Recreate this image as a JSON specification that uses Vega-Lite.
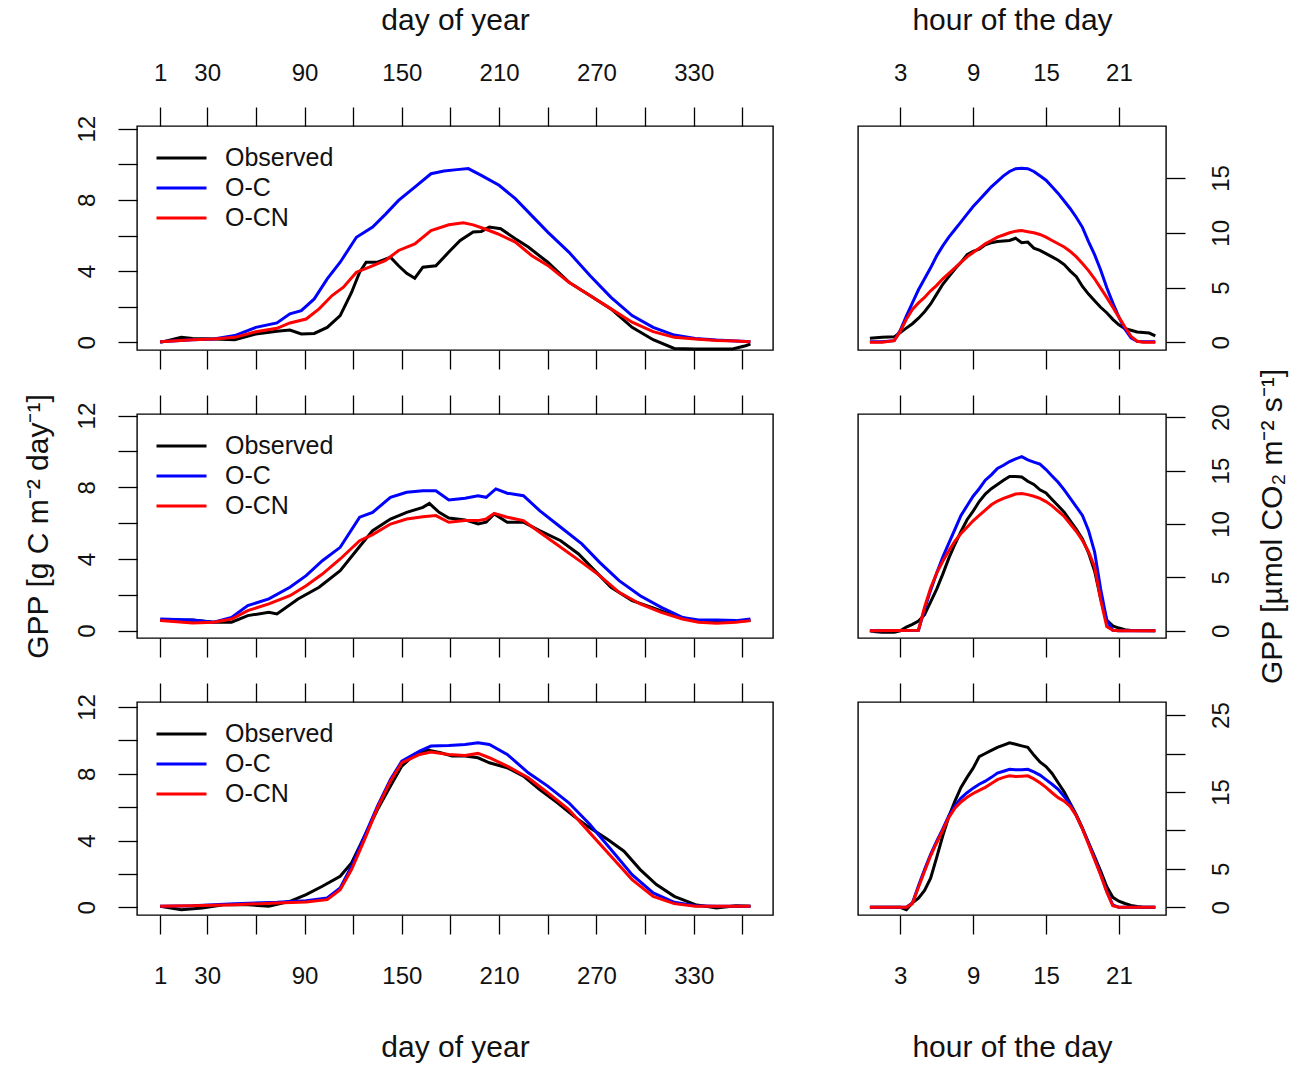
{
"$schema": "https://vega.github.io/schema/vega-lite/v6.json",
"padding": {"left": 22, "top": 4, "right": 4, "bottom": 4},
"background": "white",
"columns": 2,
"spacing": {"row": 64, "column": 85},
"bounds": "flush",
"align": "all",
"resolve": {"scale": {"color": "independent"}, "legend": {"color": "independent"}},
"config": {
 "view": {"stroke": "#000", "strokeWidth": 1.4},
 "axis": {"domain": false, "grid": false, "tickSize": 19, "tickColor": "#000", "tickWidth": 1.3,
  "labelFont": "Liberation Sans", "labelFontSize": 24, "labelColor": "#111", "labelOverlap": false, "labelFlush": false,
  "titleFont": "Liberation Sans", "titleFontSize": 30, "titleFontWeight": "normal", "titleColor": "#111"},
 "legend": {"labelFont": "Liberation Sans", "labelFontSize": 25, "labelColor": "#111", "symbolType": "stroke", "symbolSize": 2500, "symbolStrokeWidth": 5, "labelOffset": 17, "clipHeight": 30, "rowPadding": 0, "padding": 0, "title": null},
 "line": {"strokeWidth": 3, "clip": true}
},
"datasets": {
 "a1": [
  {"day":1,"series":"Observed","gpp":0.0},{"day":8,"series":"Observed","gpp":0.15},{"day":14,"series":"Observed","gpp":0.28},{"day":21,"series":"Observed","gpp":0.22},{"day":34,"series":"Observed","gpp":0.19},{"day":47,"series":"Observed","gpp":0.15},{"day":60,"series":"Observed","gpp":0.47},{"day":73,"series":"Observed","gpp":0.62},{"day":81,"series":"Observed","gpp":0.69},{"day":88,"series":"Observed","gpp":0.47},{"day":96,"series":"Observed","gpp":0.5},{"day":104,"series":"Observed","gpp":0.84},{"day":112,"series":"Observed","gpp":1.5},{"day":119,"series":"Observed","gpp":2.8},{"day":124,"series":"Observed","gpp":3.94},{"day":128,"series":"Observed","gpp":4.5},{"day":135,"series":"Observed","gpp":4.5},{"day":143,"series":"Observed","gpp":4.78},{"day":148,"series":"Observed","gpp":4.3},{"day":153,"series":"Observed","gpp":3.88},{"day":158,"series":"Observed","gpp":3.6},{"day":163,"series":"Observed","gpp":4.22},{"day":171,"series":"Observed","gpp":4.3},{"day":179,"series":"Observed","gpp":5.07},{"day":186,"series":"Observed","gpp":5.72},{"day":194,"series":"Observed","gpp":6.2},{"day":199,"series":"Observed","gpp":6.23},{"day":204,"series":"Observed","gpp":6.47},{"day":211,"series":"Observed","gpp":6.38},{"day":220,"series":"Observed","gpp":5.82},{"day":228,"series":"Observed","gpp":5.35},{"day":240,"series":"Observed","gpp":4.5},{"day":253,"series":"Observed","gpp":3.38},{"day":266,"series":"Observed","gpp":2.63},{"day":279,"series":"Observed","gpp":1.88},{"day":292,"series":"Observed","gpp":0.84},{"day":305,"series":"Observed","gpp":0.15},{"day":318,"series":"Observed","gpp":-0.34},{"day":331,"series":"Observed","gpp":-0.38},{"day":344,"series":"Observed","gpp":-0.38},{"day":354,"series":"Observed","gpp":-0.37},{"day":362,"series":"Observed","gpp":-0.19},{"day":365,"series":"Observed","gpp":-0.1},
  {"day":1,"series":"O-C","gpp":0.04},{"day":21,"series":"O-C","gpp":0.15},{"day":34,"series":"O-C","gpp":0.19},{"day":47,"series":"O-C","gpp":0.38},{"day":60,"series":"O-C","gpp":0.84},{"day":73,"series":"O-C","gpp":1.09},{"day":81,"series":"O-C","gpp":1.6},{"day":88,"series":"O-C","gpp":1.78},{"day":96,"series":"O-C","gpp":2.44},{"day":104,"series":"O-C","gpp":3.56},{"day":112,"series":"O-C","gpp":4.5},{"day":122,"series":"O-C","gpp":5.9},{"day":132,"series":"O-C","gpp":6.47},{"day":140,"series":"O-C","gpp":7.2},{"day":148,"series":"O-C","gpp":7.97},{"day":158,"series":"O-C","gpp":8.72},{"day":168,"series":"O-C","gpp":9.47},{"day":176,"series":"O-C","gpp":9.62},{"day":184,"series":"O-C","gpp":9.7},{"day":191,"series":"O-C","gpp":9.76},{"day":199,"series":"O-C","gpp":9.38},{"day":210,"series":"O-C","gpp":8.82},{"day":220,"series":"O-C","gpp":8.07},{"day":230,"series":"O-C","gpp":7.13},{"day":240,"series":"O-C","gpp":6.19},{"day":253,"series":"O-C","gpp":5.07},{"day":266,"series":"O-C","gpp":3.75},{"day":279,"series":"O-C","gpp":2.53},{"day":292,"series":"O-C","gpp":1.5},{"day":305,"series":"O-C","gpp":0.84},{"day":318,"series":"O-C","gpp":0.41},{"day":331,"series":"O-C","gpp":0.22},{"day":344,"series":"O-C","gpp":0.13},{"day":356,"series":"O-C","gpp":0.08},{"day":365,"series":"O-C","gpp":0.04},
  {"day":1,"series":"O-CN","gpp":0.04},{"day":21,"series":"O-CN","gpp":0.15},{"day":34,"series":"O-CN","gpp":0.19},{"day":47,"series":"O-CN","gpp":0.28},{"day":60,"series":"O-CN","gpp":0.6},{"day":73,"series":"O-CN","gpp":0.79},{"day":81,"series":"O-CN","gpp":1.09},{"day":91,"series":"O-CN","gpp":1.31},{"day":99,"series":"O-CN","gpp":1.88},{"day":107,"series":"O-CN","gpp":2.63},{"day":114,"series":"O-CN","gpp":3.1},{"day":122,"series":"O-CN","gpp":3.94},{"day":130,"series":"O-CN","gpp":4.22},{"day":140,"series":"O-CN","gpp":4.6},{"day":148,"series":"O-CN","gpp":5.16},{"day":158,"series":"O-CN","gpp":5.53},{"day":168,"series":"O-CN","gpp":6.28},{"day":179,"series":"O-CN","gpp":6.6},{"day":188,"series":"O-CN","gpp":6.72},{"day":194,"series":"O-CN","gpp":6.6},{"day":201,"series":"O-CN","gpp":6.38},{"day":209,"series":"O-CN","gpp":6.1},{"day":220,"series":"O-CN","gpp":5.63},{"day":230,"series":"O-CN","gpp":4.88},{"day":240,"series":"O-CN","gpp":4.32},{"day":253,"series":"O-CN","gpp":3.38},{"day":266,"series":"O-CN","gpp":2.63},{"day":279,"series":"O-CN","gpp":1.88},{"day":292,"series":"O-CN","gpp":1.13},{"day":305,"series":"O-CN","gpp":0.6},{"day":318,"series":"O-CN","gpp":0.28},{"day":331,"series":"O-CN","gpp":0.19},{"day":344,"series":"O-CN","gpp":0.11},{"day":356,"series":"O-CN","gpp":0.08},{"day":365,"series":"O-CN","gpp":0.04}
 ],
 "a2": [
  {"day":1,"series":"Observed","gpp":0.56},{"day":21,"series":"Observed","gpp":0.6},{"day":34,"series":"Observed","gpp":0.47},{"day":45,"series":"Observed","gpp":0.47},{"day":55,"series":"Observed","gpp":0.84},{"day":68,"series":"Observed","gpp":1.02},{"day":73,"series":"Observed","gpp":0.93},{"day":86,"series":"Observed","gpp":1.77},{"day":99,"series":"Observed","gpp":2.42},{"day":112,"series":"Observed","gpp":3.35},{"day":122,"series":"Observed","gpp":4.47},{"day":132,"series":"Observed","gpp":5.58},{"day":143,"series":"Observed","gpp":6.23},{"day":153,"series":"Observed","gpp":6.6},{"day":163,"series":"Observed","gpp":6.88},{"day":167,"series":"Observed","gpp":7.1},{"day":173,"series":"Observed","gpp":6.6},{"day":179,"series":"Observed","gpp":6.29},{"day":189,"series":"Observed","gpp":6.18},{"day":197,"series":"Observed","gpp":5.95},{"day":202,"series":"Observed","gpp":6.05},{"day":207,"series":"Observed","gpp":6.51},{"day":215,"series":"Observed","gpp":6.05},{"day":225,"series":"Observed","gpp":6.05},{"day":235,"series":"Observed","gpp":5.58},{"day":248,"series":"Observed","gpp":5.02},{"day":259,"series":"Observed","gpp":4.28},{"day":269,"series":"Observed","gpp":3.35},{"day":279,"series":"Observed","gpp":2.42},{"day":292,"series":"Observed","gpp":1.67},{"day":305,"series":"Observed","gpp":1.27},{"day":318,"series":"Observed","gpp":0.84},{"day":331,"series":"Observed","gpp":0.56},{"day":344,"series":"Observed","gpp":0.52},{"day":356,"series":"Observed","gpp":0.52},{"day":365,"series":"Observed","gpp":0.56},
  {"day":1,"series":"O-C","gpp":0.65},{"day":21,"series":"O-C","gpp":0.6},{"day":34,"series":"O-C","gpp":0.47},{"day":45,"series":"O-C","gpp":0.74},{"day":55,"series":"O-C","gpp":1.4},{"day":68,"series":"O-C","gpp":1.77},{"day":81,"series":"O-C","gpp":2.42},{"day":91,"series":"O-C","gpp":3.07},{"day":101,"series":"O-C","gpp":3.9},{"day":112,"series":"O-C","gpp":4.65},{"day":124,"series":"O-C","gpp":6.33},{"day":132,"series":"O-C","gpp":6.6},{"day":143,"series":"O-C","gpp":7.44},{"day":153,"series":"O-C","gpp":7.72},{"day":163,"series":"O-C","gpp":7.81},{"day":171,"series":"O-C","gpp":7.81},{"day":179,"series":"O-C","gpp":7.29},{"day":189,"series":"O-C","gpp":7.39},{"day":197,"series":"O-C","gpp":7.53},{"day":202,"series":"O-C","gpp":7.44},{"day":208,"series":"O-C","gpp":7.91},{"day":215,"series":"O-C","gpp":7.67},{"day":225,"series":"O-C","gpp":7.53},{"day":235,"series":"O-C","gpp":6.7},{"day":248,"series":"O-C","gpp":5.77},{"day":261,"series":"O-C","gpp":4.84},{"day":272,"series":"O-C","gpp":3.81},{"day":284,"series":"O-C","gpp":2.79},{"day":297,"series":"O-C","gpp":1.95},{"day":310,"series":"O-C","gpp":1.3},{"day":323,"series":"O-C","gpp":0.74},{"day":333,"series":"O-C","gpp":0.6},{"day":344,"series":"O-C","gpp":0.6},{"day":356,"series":"O-C","gpp":0.56},{"day":365,"series":"O-C","gpp":0.65},
  {"day":1,"series":"O-CN","gpp":0.56},{"day":21,"series":"O-CN","gpp":0.43},{"day":34,"series":"O-CN","gpp":0.47},{"day":45,"series":"O-CN","gpp":0.65},{"day":55,"series":"O-CN","gpp":1.12},{"day":68,"series":"O-CN","gpp":1.49},{"day":81,"series":"O-CN","gpp":1.95},{"day":91,"series":"O-CN","gpp":2.51},{"day":101,"series":"O-CN","gpp":3.16},{"day":112,"series":"O-CN","gpp":4.0},{"day":124,"series":"O-CN","gpp":5.02},{"day":132,"series":"O-CN","gpp":5.36},{"day":143,"series":"O-CN","gpp":5.95},{"day":153,"series":"O-CN","gpp":6.23},{"day":163,"series":"O-CN","gpp":6.36},{"day":171,"series":"O-CN","gpp":6.42},{"day":179,"series":"O-CN","gpp":6.05},{"day":189,"series":"O-CN","gpp":6.14},{"day":197,"series":"O-CN","gpp":6.14},{"day":202,"series":"O-CN","gpp":6.23},{"day":207,"series":"O-CN","gpp":6.55},{"day":215,"series":"O-CN","gpp":6.33},{"day":225,"series":"O-CN","gpp":6.14},{"day":235,"series":"O-CN","gpp":5.49},{"day":248,"series":"O-CN","gpp":4.65},{"day":261,"series":"O-CN","gpp":3.81},{"day":272,"series":"O-CN","gpp":3.07},{"day":284,"series":"O-CN","gpp":2.14},{"day":297,"series":"O-CN","gpp":1.49},{"day":310,"series":"O-CN","gpp":1.02},{"day":323,"series":"O-CN","gpp":0.65},{"day":333,"series":"O-CN","gpp":0.47},{"day":344,"series":"O-CN","gpp":0.41},{"day":356,"series":"O-CN","gpp":0.47},{"day":365,"series":"O-CN","gpp":0.56}
 ],
 "a3": [
  {"day":1,"series":"Observed","gpp":0.06},{"day":14,"series":"Observed","gpp":-0.14},{"day":27,"series":"Observed","gpp":-0.04},{"day":40,"series":"Observed","gpp":0.16},{"day":55,"series":"Observed","gpp":0.16},{"day":68,"series":"Observed","gpp":0.06},{"day":81,"series":"Observed","gpp":0.36},{"day":91,"series":"Observed","gpp":0.76},{"day":101,"series":"Observed","gpp":1.26},{"day":112,"series":"Observed","gpp":1.86},{"day":119,"series":"Observed","gpp":2.66},{"day":127,"series":"Observed","gpp":4.26},{"day":135,"series":"Observed","gpp":5.86},{"day":143,"series":"Observed","gpp":7.26},{"day":150,"series":"Observed","gpp":8.46},{"day":158,"series":"Observed","gpp":9.16},{"day":166,"series":"Observed","gpp":9.42},{"day":174,"series":"Observed","gpp":9.26},{"day":181,"series":"Observed","gpp":9.06},{"day":189,"series":"Observed","gpp":9.06},{"day":197,"series":"Observed","gpp":8.96},{"day":204,"series":"Observed","gpp":8.66},{"day":215,"series":"Observed","gpp":8.36},{"day":225,"series":"Observed","gpp":7.86},{"day":235,"series":"Observed","gpp":7.06},{"day":246,"series":"Observed","gpp":6.26},{"day":256,"series":"Observed","gpp":5.46},{"day":266,"series":"Observed","gpp":4.76},{"day":277,"series":"Observed","gpp":4.06},{"day":287,"series":"Observed","gpp":3.36},{"day":297,"series":"Observed","gpp":2.26},{"day":307,"series":"Observed","gpp":1.36},{"day":318,"series":"Observed","gpp":0.66},{"day":331,"series":"Observed","gpp":0.16},{"day":344,"series":"Observed","gpp":-0.04},{"day":356,"series":"Observed","gpp":0.1},{"day":365,"series":"Observed","gpp":0.06},
  {"day":1,"series":"O-C","gpp":0.06},{"day":21,"series":"O-C","gpp":0.1},{"day":47,"series":"O-C","gpp":0.22},{"day":73,"series":"O-C","gpp":0.3},{"day":91,"series":"O-C","gpp":0.4},{"day":104,"series":"O-C","gpp":0.56},{"day":112,"series":"O-C","gpp":1.16},{"day":119,"series":"O-C","gpp":2.46},{"day":127,"series":"O-C","gpp":4.26},{"day":135,"series":"O-C","gpp":6.06},{"day":143,"series":"O-C","gpp":7.66},{"day":150,"series":"O-C","gpp":8.76},{"day":161,"series":"O-C","gpp":9.36},{"day":168,"series":"O-C","gpp":9.66},{"day":179,"series":"O-C","gpp":9.7},{"day":189,"series":"O-C","gpp":9.76},{"day":197,"series":"O-C","gpp":9.86},{"day":204,"series":"O-C","gpp":9.76},{"day":215,"series":"O-C","gpp":9.16},{"day":228,"series":"O-C","gpp":8.06},{"day":240,"series":"O-C","gpp":7.26},{"day":253,"series":"O-C","gpp":6.26},{"day":266,"series":"O-C","gpp":4.96},{"day":279,"series":"O-C","gpp":3.46},{"day":292,"series":"O-C","gpp":1.96},{"day":305,"series":"O-C","gpp":0.86},{"day":318,"series":"O-C","gpp":0.3},{"day":331,"series":"O-C","gpp":0.1},{"day":344,"series":"O-C","gpp":0.06},{"day":365,"series":"O-C","gpp":0.06},
  {"day":1,"series":"O-CN","gpp":0.06},{"day":21,"series":"O-CN","gpp":0.1},{"day":47,"series":"O-CN","gpp":0.16},{"day":73,"series":"O-CN","gpp":0.26},{"day":91,"series":"O-CN","gpp":0.32},{"day":104,"series":"O-CN","gpp":0.46},{"day":112,"series":"O-CN","gpp":1.06},{"day":119,"series":"O-CN","gpp":2.26},{"day":127,"series":"O-CN","gpp":4.06},{"day":135,"series":"O-CN","gpp":5.96},{"day":143,"series":"O-CN","gpp":7.56},{"day":150,"series":"O-CN","gpp":8.66},{"day":161,"series":"O-CN","gpp":9.16},{"day":168,"series":"O-CN","gpp":9.3},{"day":179,"series":"O-CN","gpp":9.16},{"day":189,"series":"O-CN","gpp":9.1},{"day":197,"series":"O-CN","gpp":9.22},{"day":204,"series":"O-CN","gpp":8.96},{"day":215,"series":"O-CN","gpp":8.46},{"day":228,"series":"O-CN","gpp":7.76},{"day":240,"series":"O-CN","gpp":6.86},{"day":253,"series":"O-CN","gpp":5.86},{"day":266,"series":"O-CN","gpp":4.46},{"day":279,"series":"O-CN","gpp":3.06},{"day":292,"series":"O-CN","gpp":1.66},{"day":305,"series":"O-CN","gpp":0.66},{"day":318,"series":"O-CN","gpp":0.22},{"day":331,"series":"O-CN","gpp":0.06},{"day":344,"series":"O-CN","gpp":0.06},{"day":365,"series":"O-CN","gpp":0.06}
 ],
 "d1": [
  {"hour":0.5,"series":"Observed","gpp":0.37},{"hour":1.5,"series":"Observed","gpp":0.46},{"hour":2.5,"series":"Observed","gpp":0.5},{"hour":3,"series":"Observed","gpp":0.9},{"hour":3.5,"series":"Observed","gpp":1.3},{"hour":4,"series":"Observed","gpp":1.7},{"hour":4.5,"series":"Observed","gpp":2.2},{"hour":5,"series":"Observed","gpp":2.8},{"hour":5.5,"series":"Observed","gpp":3.5},{"hour":6,"series":"Observed","gpp":4.4},{"hour":6.5,"series":"Observed","gpp":5.3},{"hour":7,"series":"Observed","gpp":6.0},{"hour":7.5,"series":"Observed","gpp":6.7},{"hour":8,"series":"Observed","gpp":7.3},{"hour":8.5,"series":"Observed","gpp":8.0},{"hour":9,"series":"Observed","gpp":8.3},{"hour":9.5,"series":"Observed","gpp":8.5},{"hour":10,"series":"Observed","gpp":8.9},{"hour":10.5,"series":"Observed","gpp":9.1},{"hour":11,"series":"Observed","gpp":9.2},{"hour":11.5,"series":"Observed","gpp":9.25},{"hour":12,"series":"Observed","gpp":9.3},{"hour":12.5,"series":"Observed","gpp":9.5},{"hour":13,"series":"Observed","gpp":9.1},{"hour":13.5,"series":"Observed","gpp":9.15},{"hour":14,"series":"Observed","gpp":8.6},{"hour":14.5,"series":"Observed","gpp":8.4},{"hour":15,"series":"Observed","gpp":8.1},{"hour":15.5,"series":"Observed","gpp":7.8},{"hour":16,"series":"Observed","gpp":7.5},{"hour":16.5,"series":"Observed","gpp":7.1},{"hour":17,"series":"Observed","gpp":6.5},{"hour":17.5,"series":"Observed","gpp":6.0},{"hour":18,"series":"Observed","gpp":5.1},{"hour":18.5,"series":"Observed","gpp":4.4},{"hour":19,"series":"Observed","gpp":3.8},{"hour":19.5,"series":"Observed","gpp":3.2},{"hour":20,"series":"Observed","gpp":2.7},{"hour":20.5,"series":"Observed","gpp":2.1},{"hour":21,"series":"Observed","gpp":1.6},{"hour":21.5,"series":"Observed","gpp":1.25},{"hour":22,"series":"Observed","gpp":1.1},{"hour":22.5,"series":"Observed","gpp":0.95},{"hour":23,"series":"Observed","gpp":0.9},{"hour":23.5,"series":"Observed","gpp":0.85},{"hour":24,"series":"Observed","gpp":0.6},
  {"hour":0.5,"series":"O-C","gpp":0.06},{"hour":1.5,"series":"O-C","gpp":0.06},{"hour":2.5,"series":"O-C","gpp":0.15},{"hour":3,"series":"O-C","gpp":1.1},{"hour":3.5,"series":"O-C","gpp":2.4},{"hour":4,"series":"O-C","gpp":3.6},{"hour":4.5,"series":"O-C","gpp":4.8},{"hour":5,"series":"O-C","gpp":5.8},{"hour":5.5,"series":"O-C","gpp":6.8},{"hour":6,"series":"O-C","gpp":7.9},{"hour":6.5,"series":"O-C","gpp":8.8},{"hour":7,"series":"O-C","gpp":9.6},{"hour":7.5,"series":"O-C","gpp":10.3},{"hour":8,"series":"O-C","gpp":11.0},{"hour":8.5,"series":"O-C","gpp":11.7},{"hour":9,"series":"O-C","gpp":12.4},{"hour":9.5,"series":"O-C","gpp":13.0},{"hour":10,"series":"O-C","gpp":13.6},{"hour":10.5,"series":"O-C","gpp":14.2},{"hour":11,"series":"O-C","gpp":14.7},{"hour":11.5,"series":"O-C","gpp":15.2},{"hour":12,"series":"O-C","gpp":15.6},{"hour":12.5,"series":"O-C","gpp":15.85},{"hour":13,"series":"O-C","gpp":15.9},{"hour":13.5,"series":"O-C","gpp":15.85},{"hour":14,"series":"O-C","gpp":15.6},{"hour":14.5,"series":"O-C","gpp":15.2},{"hour":15,"series":"O-C","gpp":14.8},{"hour":15.5,"series":"O-C","gpp":14.2},{"hour":16,"series":"O-C","gpp":13.6},{"hour":16.5,"series":"O-C","gpp":12.9},{"hour":17,"series":"O-C","gpp":12.2},{"hour":17.5,"series":"O-C","gpp":11.4},{"hour":18,"series":"O-C","gpp":10.5},{"hour":18.5,"series":"O-C","gpp":9.2},{"hour":19,"series":"O-C","gpp":8.0},{"hour":19.5,"series":"O-C","gpp":6.6},{"hour":20,"series":"O-C","gpp":5.0},{"hour":20.5,"series":"O-C","gpp":3.6},{"hour":21,"series":"O-C","gpp":2.3},{"hour":21.5,"series":"O-C","gpp":1.2},{"hour":22,"series":"O-C","gpp":0.4},{"hour":22.5,"series":"O-C","gpp":0.1},{"hour":23,"series":"O-C","gpp":0.06},{"hour":24,"series":"O-C","gpp":0.06},
  {"hour":0.5,"series":"O-CN","gpp":0.0},{"hour":1.5,"series":"O-CN","gpp":0.0},{"hour":2.5,"series":"O-CN","gpp":0.15},{"hour":3,"series":"O-CN","gpp":1.0},{"hour":3.5,"series":"O-CN","gpp":2.1},{"hour":4,"series":"O-CN","gpp":3.0},{"hour":4.5,"series":"O-CN","gpp":3.6},{"hour":5,"series":"O-CN","gpp":4.1},{"hour":5.5,"series":"O-CN","gpp":4.7},{"hour":6,"series":"O-CN","gpp":5.2},{"hour":6.5,"series":"O-CN","gpp":5.8},{"hour":7,"series":"O-CN","gpp":6.3},{"hour":7.5,"series":"O-CN","gpp":6.8},{"hour":8,"series":"O-CN","gpp":7.3},{"hour":8.5,"series":"O-CN","gpp":7.8},{"hour":9,"series":"O-CN","gpp":8.2},{"hour":9.5,"series":"O-CN","gpp":8.6},{"hour":10,"series":"O-CN","gpp":9.0},{"hour":10.5,"series":"O-CN","gpp":9.3},{"hour":11,"series":"O-CN","gpp":9.6},{"hour":11.5,"series":"O-CN","gpp":9.8},{"hour":12,"series":"O-CN","gpp":10.0},{"hour":12.5,"series":"O-CN","gpp":10.15},{"hour":13,"series":"O-CN","gpp":10.2},{"hour":13.5,"series":"O-CN","gpp":10.1},{"hour":14,"series":"O-CN","gpp":10.0},{"hour":14.5,"series":"O-CN","gpp":9.85},{"hour":15,"series":"O-CN","gpp":9.6},{"hour":15.5,"series":"O-CN","gpp":9.3},{"hour":16,"series":"O-CN","gpp":9.0},{"hour":16.5,"series":"O-CN","gpp":8.7},{"hour":17,"series":"O-CN","gpp":8.3},{"hour":17.5,"series":"O-CN","gpp":7.8},{"hour":18,"series":"O-CN","gpp":7.2},{"hour":18.5,"series":"O-CN","gpp":6.55},{"hour":19,"series":"O-CN","gpp":5.8},{"hour":19.5,"series":"O-CN","gpp":4.95},{"hour":20,"series":"O-CN","gpp":4.1},{"hour":20.5,"series":"O-CN","gpp":3.2},{"hour":21,"series":"O-CN","gpp":2.3},{"hour":21.5,"series":"O-CN","gpp":1.4},{"hour":22,"series":"O-CN","gpp":0.55},{"hour":22.5,"series":"O-CN","gpp":0.1},{"hour":23,"series":"O-CN","gpp":0.0},{"hour":24,"series":"O-CN","gpp":0.0}
 ],
 "d2": [
  {"hour":0.5,"series":"Observed","gpp":0.0},{"hour":1,"series":"Observed","gpp":-0.1},{"hour":1.5,"series":"Observed","gpp":-0.15},{"hour":2.5,"series":"Observed","gpp":-0.15},{"hour":3,"series":"Observed","gpp":0.0},{"hour":3.5,"series":"Observed","gpp":0.35},{"hour":4,"series":"Observed","gpp":0.6},{"hour":4.5,"series":"Observed","gpp":0.9},{"hour":5,"series":"Observed","gpp":1.5},{"hour":5.5,"series":"Observed","gpp":2.7},{"hour":6,"series":"Observed","gpp":3.9},{"hour":6.5,"series":"Observed","gpp":5.3},{"hour":7,"series":"Observed","gpp":6.8},{"hour":7.5,"series":"Observed","gpp":8.1},{"hour":8,"series":"Observed","gpp":9.3},{"hour":8.5,"series":"Observed","gpp":10.4},{"hour":9,"series":"Observed","gpp":11.2},{"hour":9.5,"series":"Observed","gpp":12.1},{"hour":10,"series":"Observed","gpp":12.8},{"hour":10.5,"series":"Observed","gpp":13.3},{"hour":11,"series":"Observed","gpp":13.7},{"hour":11.5,"series":"Observed","gpp":14.1},{"hour":12,"series":"Observed","gpp":14.45},{"hour":12.5,"series":"Observed","gpp":14.45},{"hour":13,"series":"Observed","gpp":14.4},{"hour":13.5,"series":"Observed","gpp":14.0},{"hour":14,"series":"Observed","gpp":13.7},{"hour":14.5,"series":"Observed","gpp":13.2},{"hour":15,"series":"Observed","gpp":12.9},{"hour":15.5,"series":"Observed","gpp":12.3},{"hour":16,"series":"Observed","gpp":11.7},{"hour":16.5,"series":"Observed","gpp":11.1},{"hour":17,"series":"Observed","gpp":10.3},{"hour":17.5,"series":"Observed","gpp":9.5},{"hour":18,"series":"Observed","gpp":8.6},{"hour":18.5,"series":"Observed","gpp":7.3},{"hour":19,"series":"Observed","gpp":5.6},{"hour":19.5,"series":"Observed","gpp":3.0},{"hour":20,"series":"Observed","gpp":1.0},{"hour":20.5,"series":"Observed","gpp":0.45},{"hour":21,"series":"Observed","gpp":0.25},{"hour":21.5,"series":"Observed","gpp":0.1},{"hour":22,"series":"Observed","gpp":0.03},{"hour":24,"series":"Observed","gpp":0.0},
  {"hour":0.5,"series":"O-C","gpp":0.0},{"hour":4.5,"series":"O-C","gpp":0.05},{"hour":5,"series":"O-C","gpp":2.0},{"hour":5.5,"series":"O-C","gpp":3.8},{"hour":6,"series":"O-C","gpp":5.4},{"hour":6.5,"series":"O-C","gpp":6.9},{"hour":7,"series":"O-C","gpp":8.2},{"hour":7.5,"series":"O-C","gpp":9.5},{"hour":8,"series":"O-C","gpp":10.8},{"hour":8.5,"series":"O-C","gpp":11.7},{"hour":9,"series":"O-C","gpp":12.6},{"hour":9.5,"series":"O-C","gpp":13.3},{"hour":10,"series":"O-C","gpp":14.1},{"hour":10.5,"series":"O-C","gpp":14.6},{"hour":11,"series":"O-C","gpp":15.2},{"hour":11.5,"series":"O-C","gpp":15.5},{"hour":12,"series":"O-C","gpp":15.85},{"hour":12.5,"series":"O-C","gpp":16.1},{"hour":13,"series":"O-C","gpp":16.3},{"hour":13.5,"series":"O-C","gpp":16.0},{"hour":14,"series":"O-C","gpp":15.8},{"hour":14.5,"series":"O-C","gpp":15.6},{"hour":15,"series":"O-C","gpp":15.1},{"hour":15.5,"series":"O-C","gpp":14.5},{"hour":16,"series":"O-C","gpp":13.9},{"hour":16.5,"series":"O-C","gpp":13.2},{"hour":17,"series":"O-C","gpp":12.4},{"hour":17.5,"series":"O-C","gpp":11.6},{"hour":18,"series":"O-C","gpp":10.8},{"hour":18.5,"series":"O-C","gpp":9.4},{"hour":19,"series":"O-C","gpp":7.4},{"hour":19.5,"series":"O-C","gpp":3.9},{"hour":20,"series":"O-C","gpp":1.0},{"hour":20.5,"series":"O-C","gpp":0.05},{"hour":21,"series":"O-C","gpp":0.0},{"hour":24,"series":"O-C","gpp":0.0},
  {"hour":0.5,"series":"O-CN","gpp":0.0},{"hour":4.5,"series":"O-CN","gpp":0.05},{"hour":5,"series":"O-CN","gpp":2.2},{"hour":5.5,"series":"O-CN","gpp":4.0},{"hour":6,"series":"O-CN","gpp":5.4},{"hour":6.5,"series":"O-CN","gpp":6.5},{"hour":7,"series":"O-CN","gpp":7.5},{"hour":7.5,"series":"O-CN","gpp":8.4},{"hour":8,"series":"O-CN","gpp":9.1},{"hour":8.5,"series":"O-CN","gpp":9.7},{"hour":9,"series":"O-CN","gpp":10.3},{"hour":9.5,"series":"O-CN","gpp":10.8},{"hour":10,"series":"O-CN","gpp":11.3},{"hour":10.5,"series":"O-CN","gpp":11.8},{"hour":11,"series":"O-CN","gpp":12.15},{"hour":11.5,"series":"O-CN","gpp":12.4},{"hour":12,"series":"O-CN","gpp":12.6},{"hour":12.5,"series":"O-CN","gpp":12.8},{"hour":13,"series":"O-CN","gpp":12.85},{"hour":13.5,"series":"O-CN","gpp":12.75},{"hour":14,"series":"O-CN","gpp":12.6},{"hour":14.5,"series":"O-CN","gpp":12.4},{"hour":15,"series":"O-CN","gpp":12.1},{"hour":15.5,"series":"O-CN","gpp":11.7},{"hour":16,"series":"O-CN","gpp":11.2},{"hour":16.5,"series":"O-CN","gpp":10.7},{"hour":17,"series":"O-CN","gpp":10.0},{"hour":17.5,"series":"O-CN","gpp":9.3},{"hour":18,"series":"O-CN","gpp":8.45},{"hour":18.5,"series":"O-CN","gpp":7.4},{"hour":19,"series":"O-CN","gpp":6.0},{"hour":19.5,"series":"O-CN","gpp":2.9},{"hour":20,"series":"O-CN","gpp":0.4},{"hour":20.5,"series":"O-CN","gpp":0.05},{"hour":21,"series":"O-CN","gpp":0.0},{"hour":24,"series":"O-CN","gpp":0.0}
 ],
 "d3": [
  {"hour":0.5,"series":"Observed","gpp":0.0},{"hour":3,"series":"Observed","gpp":0.0},{"hour":3.5,"series":"Observed","gpp":-0.3},{"hour":4,"series":"Observed","gpp":0.57},{"hour":4.5,"series":"Observed","gpp":1.2},{"hour":5,"series":"Observed","gpp":2.2},{"hour":5.5,"series":"Observed","gpp":3.8},{"hour":6,"series":"Observed","gpp":6.5},{"hour":6.5,"series":"Observed","gpp":9.3},{"hour":7,"series":"Observed","gpp":11.8},{"hour":7.5,"series":"Observed","gpp":13.8},{"hour":8,"series":"Observed","gpp":15.6},{"hour":8.5,"series":"Observed","gpp":16.9},{"hour":9,"series":"Observed","gpp":18.1},{"hour":9.5,"series":"Observed","gpp":19.6},{"hour":10,"series":"Observed","gpp":20.0},{"hour":10.5,"series":"Observed","gpp":20.4},{"hour":11,"series":"Observed","gpp":20.8},{"hour":11.5,"series":"Observed","gpp":21.1},{"hour":12,"series":"Observed","gpp":21.4},{"hour":12.5,"series":"Observed","gpp":21.2},{"hour":13,"series":"Observed","gpp":21.0},{"hour":13.5,"series":"Observed","gpp":20.8},{"hour":14,"series":"Observed","gpp":19.8},{"hour":14.5,"series":"Observed","gpp":18.9},{"hour":15,"series":"Observed","gpp":18.3},{"hour":15.5,"series":"Observed","gpp":17.4},{"hour":16,"series":"Observed","gpp":16.2},{"hour":16.5,"series":"Observed","gpp":15.0},{"hour":17,"series":"Observed","gpp":13.5},{"hour":17.5,"series":"Observed","gpp":12.0},{"hour":18,"series":"Observed","gpp":10.3},{"hour":18.5,"series":"Observed","gpp":8.4},{"hour":19,"series":"Observed","gpp":6.6},{"hour":19.5,"series":"Observed","gpp":4.7},{"hour":20,"series":"Observed","gpp":2.7},{"hour":20.5,"series":"Observed","gpp":1.3},{"hour":21,"series":"Observed","gpp":0.8},{"hour":21.5,"series":"Observed","gpp":0.5},{"hour":22,"series":"Observed","gpp":0.25},{"hour":22.5,"series":"Observed","gpp":0.1},{"hour":23,"series":"Observed","gpp":0.0},{"hour":24,"series":"Observed","gpp":0.0},
  {"hour":0.5,"series":"O-C","gpp":0.0},{"hour":3.5,"series":"O-C","gpp":0.0},{"hour":4,"series":"O-C","gpp":0.57},{"hour":4.5,"series":"O-C","gpp":2.8},{"hour":5,"series":"O-C","gpp":4.9},{"hour":5.5,"series":"O-C","gpp":6.9},{"hour":6,"series":"O-C","gpp":8.6},{"hour":6.5,"series":"O-C","gpp":10.2},{"hour":7,"series":"O-C","gpp":11.9},{"hour":7.5,"series":"O-C","gpp":13.2},{"hour":8,"series":"O-C","gpp":14.2},{"hour":8.5,"series":"O-C","gpp":14.9},{"hour":9,"series":"O-C","gpp":15.5},{"hour":9.5,"series":"O-C","gpp":16.0},{"hour":10,"series":"O-C","gpp":16.4},{"hour":10.5,"series":"O-C","gpp":16.9},{"hour":11,"series":"O-C","gpp":17.45},{"hour":11.5,"series":"O-C","gpp":17.7},{"hour":12,"series":"O-C","gpp":17.95},{"hour":12.5,"series":"O-C","gpp":17.9},{"hour":13,"series":"O-C","gpp":17.9},{"hour":13.5,"series":"O-C","gpp":17.95},{"hour":14,"series":"O-C","gpp":17.6},{"hour":14.5,"series":"O-C","gpp":17.2},{"hour":15,"series":"O-C","gpp":16.6},{"hour":15.5,"series":"O-C","gpp":16.0},{"hour":16,"series":"O-C","gpp":15.35},{"hour":16.5,"series":"O-C","gpp":14.4},{"hour":17,"series":"O-C","gpp":13.4},{"hour":17.5,"series":"O-C","gpp":11.9},{"hour":18,"series":"O-C","gpp":10.2},{"hour":18.5,"series":"O-C","gpp":8.4},{"hour":19,"series":"O-C","gpp":6.4},{"hour":19.5,"series":"O-C","gpp":4.3},{"hour":20,"series":"O-C","gpp":2.1},{"hour":20.5,"series":"O-C","gpp":0.3},{"hour":21,"series":"O-C","gpp":0.0},{"hour":24,"series":"O-C","gpp":0.0},
  {"hour":0.5,"series":"O-CN","gpp":0.0},{"hour":3.5,"series":"O-CN","gpp":0.0},{"hour":4,"series":"O-CN","gpp":0.48},{"hour":4.5,"series":"O-CN","gpp":2.6},{"hour":5,"series":"O-CN","gpp":4.7},{"hour":5.5,"series":"O-CN","gpp":6.7},{"hour":6,"series":"O-CN","gpp":8.4},{"hour":6.5,"series":"O-CN","gpp":10.0},{"hour":7,"series":"O-CN","gpp":11.7},{"hour":7.5,"series":"O-CN","gpp":12.9},{"hour":8,"series":"O-CN","gpp":13.7},{"hour":8.5,"series":"O-CN","gpp":14.3},{"hour":9,"series":"O-CN","gpp":14.8},{"hour":9.5,"series":"O-CN","gpp":15.2},{"hour":10,"series":"O-CN","gpp":15.6},{"hour":10.5,"series":"O-CN","gpp":16.1},{"hour":11,"series":"O-CN","gpp":16.6},{"hour":11.5,"series":"O-CN","gpp":16.9},{"hour":12,"series":"O-CN","gpp":17.1},{"hour":12.5,"series":"O-CN","gpp":17.0},{"hour":13,"series":"O-CN","gpp":17.05},{"hour":13.5,"series":"O-CN","gpp":17.1},{"hour":14,"series":"O-CN","gpp":16.7},{"hour":14.5,"series":"O-CN","gpp":16.2},{"hour":15,"series":"O-CN","gpp":15.6},{"hour":15.5,"series":"O-CN","gpp":14.9},{"hour":16,"series":"O-CN","gpp":14.26},{"hour":16.5,"series":"O-CN","gpp":13.8},{"hour":17,"series":"O-CN","gpp":13.1},{"hour":17.5,"series":"O-CN","gpp":11.9},{"hour":18,"series":"O-CN","gpp":10.2},{"hour":18.5,"series":"O-CN","gpp":8.2},{"hour":19,"series":"O-CN","gpp":6.2},{"hour":19.5,"series":"O-CN","gpp":4.2},{"hour":20,"series":"O-CN","gpp":2.0},{"hour":20.5,"series":"O-CN","gpp":0.2},{"hour":21,"series":"O-CN","gpp":0.0},{"hour":24,"series":"O-CN","gpp":0.0}
 ]
},
"concat": [
 {"width": 636, "height": 224, "data": {"name": "a1"},
  "resolve": {"axis": {"x": "independent", "y": "independent"}},
  "layer": [
   {"mark": "line", "encoding": {
     "x": {"field": "day", "type": "quantitative", "scale": {"domain": [-13.3, 378.9], "nice": false, "zero": false},
       "axis": {"orient": "bottom", "values": [1,30,60,90,120,150,180,210,240,270,300,330,360], "labels": false, "title": null}},
     "y": {"field": "gpp", "type": "quantitative", "scale": {"domain": [-0.43, 12.15], "nice": false, "zero": false},
       "axis": {"orient": "left", "values": [0,2,4,6,8,10,12], "labelExpr": "datum.value % 4 === 0 ? datum.label : ''", "labelAngle": 270, "labelAlign": "center", "labelBaseline": "bottom", "labelPadding": 19, "title": null}},
     "color": {"field": "series", "type": "nominal", "scale": {"domain": ["Observed","O-C","O-CN"], "range": ["#000000","#0000FF","#FF0000"]},
       "legend": {"orient": "none", "legendX": 18, "legendY": 17}}}},
   {"mark": {"type": "line", "strokeOpacity": 0}, "encoding": {
     "x": {"field": "day", "type": "quantitative", "axis": {"orient": "top", "values": [1,30,60,90,120,150,180,210,240,270,300,330,360], "labelExpr": "indexof([1,30,90,150,210,270,330], datum.value) >= 0 ? datum.label : ''", "labelPadding": 22, "title": "day of year", "titlePadding": 26}},
     "y": {"field": "gpp", "type": "quantitative", "axis": null}}}
  ]},
 {"width": 308, "height": 224, "data": {"name": "d1"},
  "resolve": {"axis": {"x": "independent", "y": "independent"}},
  "layer": [
   {"mark": "line", "encoding": {
     "x": {"field": "hour", "type": "quantitative", "scale": {"domain": [-0.48, 24.88], "nice": false, "zero": false},
       "axis": {"orient": "bottom", "values": [3,9,15,21], "labels": false, "title": null}},
     "y": {"field": "gpp", "type": "quantitative", "scale": {"domain": [-0.7, 19.75], "nice": false, "zero": false},
       "axis": {"orient": "right", "values": [0,5,10,15], "labelAngle": 270, "labelAlign": "center", "labelBaseline": "top", "labelPadding": 24, "title": null}},
     "color": {"field": "series", "type": "nominal", "scale": {"domain": ["Observed","O-C","O-CN"], "range": ["#000000","#0000FF","#FF0000"]}, "legend": null}}},
   {"mark": {"type": "line", "strokeOpacity": 0}, "encoding": {
     "x": {"field": "hour", "type": "quantitative", "axis": {"orient": "top", "values": [3,9,15,21], "labelPadding": 22, "title": "hour of the day", "titlePadding": 26}},
     "y": {"field": "gpp", "type": "quantitative", "axis": null}}}
  ]},
 {"width": 636, "height": 224, "data": {"name": "a2"},
  "resolve": {"axis": {"x": "independent", "y": "independent"}},
  "layer": [
   {"mark": "line", "encoding": {
     "x": {"field": "day", "type": "quantitative", "scale": {"domain": [-13.3, 378.9], "nice": false, "zero": false},
       "axis": {"orient": "bottom", "values": [1,30,60,90,120,150,180,210,240,270,300,330,360], "labels": false, "title": null}},
     "y": {"field": "gpp", "type": "quantitative", "scale": {"domain": [-0.41, 12.09], "nice": false, "zero": false},
       "axis": {"orient": "left", "values": [0,2,4,6,8,10,12], "labelExpr": "datum.value % 4 === 0 ? datum.label : ''", "labelAngle": 270, "labelAlign": "center", "labelBaseline": "bottom", "labelPadding": 19, "title": "GPP [g C m⁻² day⁻¹]", "titlePadding": 22}},
     "color": {"field": "series", "type": "nominal", "scale": {"domain": ["Observed","O-C","O-CN"], "range": ["#000000","#0000FF","#FF0000"]},
       "legend": {"orient": "none", "legendX": 18, "legendY": 17}}}},
   {"mark": {"type": "line", "strokeOpacity": 0}, "encoding": {
     "x": {"field": "day", "type": "quantitative", "axis": {"orient": "top", "values": [1,30,60,90,120,150,180,210,240,270,300,330,360], "labels": false, "title": null}},
     "y": {"field": "gpp", "type": "quantitative", "axis": null}}}
  ]},
 {"width": 308, "height": 224, "data": {"name": "d2"},
  "resolve": {"axis": {"x": "independent", "y": "independent"}},
  "layer": [
   {"mark": "line", "encoding": {
     "x": {"field": "hour", "type": "quantitative", "scale": {"domain": [-0.48, 24.88], "nice": false, "zero": false},
       "axis": {"orient": "bottom", "values": [3,9,15,21], "labels": false, "title": null}},
     "y": {"field": "gpp", "type": "quantitative", "scale": {"domain": [-0.68, 20.3], "nice": false, "zero": false},
       "axis": {"orient": "right", "values": [0,5,10,15,20], "labelAngle": 270, "labelAlign": "center", "labelBaseline": "top", "labelPadding": 24, "title": "GPP [µmol CO₂ m⁻² s⁻¹]", "titleAngle": 270, "titleBaseline": "top", "titlePadding": 24}},
     "color": {"field": "series", "type": "nominal", "scale": {"domain": ["Observed","O-C","O-CN"], "range": ["#000000","#0000FF","#FF0000"]}, "legend": null}}},
   {"mark": {"type": "line", "strokeOpacity": 0}, "encoding": {
     "x": {"field": "hour", "type": "quantitative", "axis": {"orient": "top", "values": [3,9,15,21], "labels": false, "title": null}},
     "y": {"field": "gpp", "type": "quantitative", "axis": null}}}
  ]},
 {"width": 636, "height": 213, "data": {"name": "a3"},
  "resolve": {"axis": {"x": "independent", "y": "independent"}},
  "layer": [
   {"mark": "line", "encoding": {
     "x": {"field": "day", "type": "quantitative", "scale": {"domain": [-13.3, 378.9], "nice": false, "zero": false},
       "axis": {"orient": "bottom", "values": [1,30,60,90,120,150,180,210,240,270,300,330,360], "labelExpr": "indexof([1,30,90,150,210,270,330], datum.value) >= 0 ? datum.label : ''", "labelPadding": 30, "title": "day of year", "titlePadding": 44}},
     "y": {"field": "gpp", "type": "quantitative", "scale": {"domain": [-0.46, 12.3], "nice": false, "zero": false},
       "axis": {"orient": "left", "values": [0,2,4,6,8,10,12], "labelExpr": "datum.value % 4 === 0 ? datum.label : ''", "labelAngle": 270, "labelAlign": "center", "labelBaseline": "bottom", "labelPadding": 19, "title": null}},
     "color": {"field": "series", "type": "nominal", "scale": {"domain": ["Observed","O-C","O-CN"], "range": ["#000000","#0000FF","#FF0000"]},
       "legend": {"orient": "none", "legendX": 18, "legendY": 17}}}},
   {"mark": {"type": "line", "strokeOpacity": 0}, "encoding": {
     "x": {"field": "day", "type": "quantitative", "axis": {"orient": "top", "values": [1,30,60,90,120,150,180,210,240,270,300,330,360], "labels": false, "title": null}},
     "y": {"field": "gpp", "type": "quantitative", "axis": null}}}
  ]},
 {"width": 308, "height": 213, "data": {"name": "d3"},
  "resolve": {"axis": {"x": "independent", "y": "independent"}},
  "layer": [
   {"mark": "line", "encoding": {
     "x": {"field": "hour", "type": "quantitative", "scale": {"domain": [-0.48, 24.88], "nice": false, "zero": false},
       "axis": {"orient": "bottom", "values": [3,9,15,21], "labelPadding": 30, "title": "hour of the day", "titlePadding": 44}},
     "y": {"field": "gpp", "type": "quantitative", "scale": {"domain": [-1.0, 26.7], "nice": false, "zero": false},
       "axis": {"orient": "right", "values": [0,5,10,15,20,25], "labelExpr": "datum.value === 10 || datum.value === 20 ? '' : datum.label", "labelAngle": 270, "labelAlign": "center", "labelBaseline": "top", "labelPadding": 24, "title": null}},
     "color": {"field": "series", "type": "nominal", "scale": {"domain": ["Observed","O-C","O-CN"], "range": ["#000000","#0000FF","#FF0000"]}, "legend": null}}},
   {"mark": {"type": "line", "strokeOpacity": 0}, "encoding": {
     "x": {"field": "hour", "type": "quantitative", "axis": {"orient": "top", "values": [3,9,15,21], "labels": false, "title": null}},
     "y": {"field": "gpp", "type": "quantitative", "axis": null}}}
  ]}
]
}
